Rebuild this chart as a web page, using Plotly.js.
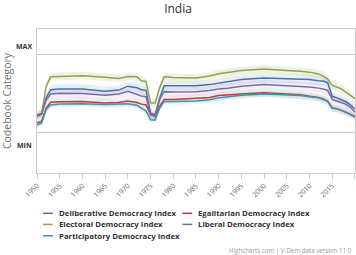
<!DOCTYPE html>
<html><head><meta charset="utf-8">
<script src="https://cdn.plot.ly/plotly-3.0.1.min.js"></script>
<style>html,body{margin:0;padding:0;background:#fff}#c{width:356px;height:255px}</style>
</head><body><div id="c"></div>
<script>
const years = [1950,1951,1952,1953,1955,1960,1965,1968,1970,1972,1973,1974,1975,1976,1977,1978,1980,1985,1988,1990,1992,1995,2000,2002,2005,2008,2010,2012,2013,2014,2015,2016,2017,2018,2019,2020];

const deliberative = [.23,.25,.45,.555,.565,.565,.535,.55,.60,.58,.555,.545,.255,.235,.45,.605,.605,.605,.62,.64,.655,.685,.705,.70,.69,.69,.685,.67,.665,.645,.47,.45,.43,.40,.36,.31];
const deliberativeHi = [.28,.30,.51,.615,.625,.625,.595,.61,.66,.64,.615,.605,.31,.29,.51,.665,.665,.665,.68,.70,.715,.745,.765,.76,.75,.75,.745,.73,.725,.705,.53,.51,.49,.46,.42,.37];
const deliberativeLo = [.18,.20,.39,.495,.505,.505,.475,.49,.54,.52,.495,.485,.20,.18,.39,.545,.545,.545,.56,.58,.595,.625,.645,.64,.63,.63,.625,.61,.605,.585,.41,.39,.37,.34,.30,.25];

const egalitarian = [.13,.15,.32,.395,.40,.405,.385,.39,.41,.39,.37,.36,.235,.215,.34,.43,.43,.44,.455,.48,.49,.50,.515,.51,.50,.49,.47,.455,.435,.41,.32,.31,.29,.27,.24,.21];
const egalitarianHi = [.17,.19,.37,.445,.45,.455,.435,.44,.46,.44,.42,.41,.28,.26,.39,.48,.48,.49,.505,.53,.54,.55,.565,.56,.55,.54,.52,.505,.485,.46,.37,.36,.34,.32,.29,.26];
const egalitarianLo = [.09,.11,.27,.345,.35,.355,.335,.34,.36,.34,.32,.31,.19,.17,.29,.38,.38,.39,.405,.43,.44,.45,.465,.46,.45,.44,.42,.405,.385,.36,.27,.26,.24,.22,.19,.16];

const electoral = [.21,.24,.60,.72,.725,.735,.715,.70,.725,.72,.67,.66,.385,.385,.58,.72,.71,.705,.73,.76,.775,.80,.82,.81,.80,.79,.78,.755,.73,.69,.61,.59,.565,.525,.48,.44];
const electoralHi = [.25,.28,.65,.77,.775,.785,.765,.75,.775,.77,.72,.71,.44,.44,.63,.77,.76,.755,.78,.81,.825,.85,.87,.86,.85,.84,.83,.81,.785,.745,.665,.645,.62,.58,.535,.495];
const electoralLo = [.17,.20,.55,.67,.675,.685,.665,.65,.675,.67,.62,.61,.33,.33,.53,.67,.66,.655,.68,.71,.725,.75,.77,.76,.75,.74,.73,.70,.675,.635,.555,.535,.51,.47,.425,.385];

const liberal = [.22,.24,.42,.50,.51,.505,.485,.50,.535,.49,.475,.465,.235,.22,.43,.53,.525,.53,.545,.565,.575,.60,.62,.615,.605,.60,.59,.575,.565,.545,.43,.41,.39,.37,.33,.27];
const liberalHi = [.27,.29,.48,.56,.57,.565,.545,.56,.595,.55,.535,.525,.29,.27,.49,.59,.585,.59,.605,.625,.635,.66,.68,.675,.665,.66,.65,.635,.625,.605,.49,.47,.45,.43,.39,.33];
const liberalLo = [.17,.19,.36,.44,.45,.445,.425,.44,.475,.43,.415,.405,.18,.17,.37,.47,.465,.47,.485,.505,.515,.54,.56,.555,.545,.54,.53,.515,.505,.485,.37,.35,.33,.31,.27,.21];

const participatory = [.105,.125,.30,.36,.37,.375,.365,.37,.375,.355,.32,.28,.17,.165,.32,.405,.405,.41,.425,.45,.465,.485,.50,.495,.49,.48,.465,.45,.43,.405,.32,.31,.29,.27,.235,.205];
const participatoryHi = [.145,.165,.34,.40,.41,.415,.405,.41,.415,.395,.36,.32,.21,.205,.36,.445,.445,.45,.465,.49,.505,.525,.54,.535,.53,.52,.505,.49,.47,.445,.36,.35,.33,.31,.275,.245];
const participatoryLo = [.065,.085,.26,.32,.33,.335,.325,.33,.335,.315,.28,.24,.13,.125,.28,.365,.365,.37,.385,.41,.425,.445,.46,.455,.45,.44,.425,.41,.39,.365,.28,.27,.25,.23,.195,.165];

const seriesNames = ["Deliberative Democracy Index","Egalitarian Democracy Index","Electoral Democracy Index","Liberal Democracy Index","Participatory Democracy Index"];
const seriesColors = ["#4572A7","#AA4643","#89A54E","#80699B","#3D96AE"];
const bandColors = ["rgba(69,114,167,0.12)","rgba(170,70,67,0.10)","rgba(137,165,78,0.15)","rgba(128,105,155,0.10)","rgba(61,150,174,0.12)"];
const yTickVals = [0,1];
const yLabels = ["MIN","MAX"];
const xTickVals = [1950,1955,1960,1965,1970,1975,1980,1985,1990,1995,2000,2005,2010,2015,2020];

const vals = [deliberative,egalitarian,electoral,liberal,participatory];
const his = [deliberativeHi,egalitarianHi,electoralHi,liberalHi,participatoryHi];
const los = [deliberativeLo,egalitarianLo,electoralLo,liberalLo,participatoryLo];

const traces = [];
for (let i=0;i<5;i++){
  traces.push({x:years,y:los[i],type:'scatter',mode:'lines',line:{width:0,color:bandColors[i]},showlegend:false,hoverinfo:'skip'});
  traces.push({x:years,y:his[i],type:'scatter',mode:'lines',line:{width:0,color:bandColors[i]},fill:'tonexty',fillcolor:bandColors[i],showlegend:false,hoverinfo:'skip'});
}
for (let i=0;i<5;i++){
  traces.push({x:years,y:vals[i],type:'scatter',mode:'lines',name:seriesNames[i],showlegend:false,line:{width:1.5,color:seriesColors[i]}});
}

// legend drawn as text + short line samples below the plot (paper coordinates)
const legCols = [0.062, 0.5];
const legRows = [-0.28, -0.357, -0.436];
const annotations = [];
const shapes = [];
for (let i=0;i<5;i++){
  const c = i%2, r = Math.floor(i/2);
  annotations.push({text:seriesNames[i],xref:'paper',yref:'paper',x:legCols[c],y:legRows[r],xanchor:'left',yanchor:'middle',showarrow:false,
    font:{family:'Open Sans, sans-serif',size:7.8,color:'#333',weight:'bold'}});
  shapes.push({type:'line',xref:'paper',yref:'paper',x0:legCols[c]-0.043,x1:legCols[c]-0.012,y0:legRows[r],y1:legRows[r],
    line:{color:seriesColors[i],width:1.5}});
}
annotations.push({text:yLabels[1],xref:'paper',yref:'y',x:0,y:1.115,xanchor:'right',xshift:-3,showarrow:false,font:{family:'Open Sans, sans-serif',size:7,color:'#333',weight:'bold'}});
annotations.push({text:yLabels[0],xref:'paper',yref:'y',x:0,y:-0.154,xanchor:'right',xshift:-3,showarrow:false,font:{family:'Open Sans, sans-serif',size:7,color:'#333',weight:'bold'}});
annotations.push({text:'Highcharts.com | V-Dem data version 11.0',xref:'paper',yref:'paper',x:1,xshift:-2,y:-0.535,xanchor:'right',yanchor:'middle',showarrow:false,borderpad:0,font:{family:'Open Sans, sans-serif',size:6.2,color:'#999'}});

const layout = {
  width:356,height:255,
  margin:{l:37,r:1,t:29,b:82},
  paper_bgcolor:'#fff',plot_bgcolor:'#fff',
  showlegend:false,
  title:{text:'India',x:0.5,xref:'container',xanchor:'center',y:0.965,yref:'container',yanchor:'middle',font:{family:'Open Sans, sans-serif',size:12,color:'#333'}},
  xaxis:{range:[1949.99,2020.02],tickvals:xTickVals,tickangle:-45,ticks:'outside',ticklen:5,tickcolor:'#C0D0E0',
    tickfont:{family:'Open Sans, sans-serif',size:7,color:'#666'},showgrid:false,zeroline:false,
    showline:true,linecolor:'#ccc',linewidth:1,mirror:true,fixedrange:true},
  yaxis:{range:[-0.513,1.333],tickvals:yTickVals,showticklabels:false,showgrid:true,gridcolor:'#c8c8c8',gridwidth:1,
    zeroline:false,showline:true,linecolor:'#ccc',linewidth:1,mirror:true,
    title:{text:'Codebook Category',standoff:22,font:{family:'Open Sans, sans-serif',size:10.5,color:'#707070'}}},
  annotations:annotations,
  shapes:shapes
};
Plotly.newPlot('c',traces,layout,{displayModeBar:false,staticPlot:true});
</script></body></html>
